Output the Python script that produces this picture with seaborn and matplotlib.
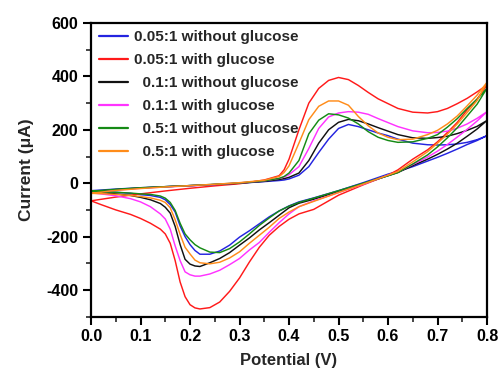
import numpy as np
import pandas as pd
import matplotlib
matplotlib.use("Agg")
import matplotlib.pyplot as plt
from matplotlib.ticker import MultipleLocator
import seaborn as sns

# Potentials for the anodic (forward) and cathodic (reverse) sweeps, V
fwd_v = [0.00, 0.05, 0.10, 0.15, 0.20, 0.25, 0.30, 0.35, 0.38, 0.39, 0.40, 0.42,
         0.44, 0.46, 0.48, 0.50, 0.52, 0.54, 0.56, 0.58, 0.60, 0.62, 0.65, 0.68,
         0.70, 0.72, 0.74, 0.76, 0.78, 0.80]
rev_v = [0.80, 0.78, 0.76, 0.74, 0.72, 0.70, 0.68, 0.65, 0.62, 0.60, 0.55, 0.50,
         0.45, 0.42, 0.40, 0.38, 0.36, 0.34, 0.32, 0.30, 0.28, 0.26, 0.24, 0.22,
         0.21, 0.20, 0.19, 0.18, 0.17, 0.16, 0.15, 0.14, 0.12, 0.10, 0.08, 0.05,
         0.02, 0.00]

labels = ["0.05:1 without glucose", "0.05:1 with glucose",
          "  0.1:1 without glucose", "  0.1:1 with glucose",
          "  0.5:1 without glucose", "  0.5:1 with glucose"]

# Current on the forward sweep, µA
fwd_blue = [-28, -22, -17, -13, -9, -5, 0, 6, 10, 12, 16, 30, 62, 115, 165, 205,
            220, 212, 200, 188, 178, 165, 150, 144, 143, 144, 147, 153, 163, 178]
fwd_red = [-66, -52, -40, -29, -19, -10, -2, 12, 28, 50, 90, 200, 300, 355, 385,
           396, 388, 366, 340, 316, 298, 280, 266, 263, 268, 280, 298, 318, 342, 368]
fwd_black = [-32, -24, -18, -13, -9, -5, 0, 7, 14, 17, 22, 38, 85, 150, 200, 228,
             239, 234, 222, 208, 195, 182, 170, 168, 171, 176, 186, 198, 213, 235]
fwd_magenta = [-36, -26, -19, -14, -10, -5, 1, 9, 18, 23, 32, 62, 130, 205, 248,
               263, 268, 266, 258, 242, 227, 212, 196, 189, 190, 195, 206, 222, 243,
               268]
fwd_green = [-30, -23, -17, -13, -9, -4, 1, 9, 18, 25, 38, 85, 185, 236, 260, 256,
             244, 222, 193, 172, 160, 153, 155, 168, 182, 210, 242, 280, 315, 356]
fwd_orange = [-38, -27, -20, -14, -9, -4, 2, 11, 25, 40, 65, 150, 238, 288, 308,
              308, 292, 250, 215, 188, 172, 163, 165, 182, 198, 222, 252, 290, 330,
              378]

# Current on the reverse sweep, µA
rev_blue = [178, 160, 145, 128, 112, 97, 83, 62, 44, 34, 2, -28, -55, -70, -85,
            -104, -126, -152, -178, -202, -232, -254, -266, -266, -252, -230, -200,
            -160, -108, -80, -62, -53, -46, -43, -38, -34, -30, -28]
rev_red = [368, 315, 275, 228, 190, 155, 125, 90, 50, 30, -6, -45, -98, -115, -135,
           -162, -195, -240, -295, -355, -405, -445, -466, -471, -467, -455, -425,
           -370, -290, -225, -190, -172, -150, -132, -117, -100, -80, -66]
rev_black = [235, 203, 176, 150, 128, 108, 90, 66, 40, 28, -2, -32, -60, -75, -92,
             -120, -148, -175, -205, -232, -260, -282, -298, -312, -310, -303, -285,
             -230, -162, -112, -90, -76, -62, -53, -46, -40, -35, -32]
rev_magenta = [268, 233, 202, 173, 145, 120, 98, 70, 42, 30, -4, -35, -66, -88,
               -115, -148, -184, -222, -250, -282, -305, -326, -340, -348, -348,
               -343, -332, -290, -235, -172, -134, -115, -88, -70, -58, -47, -40, -36]
rev_green = [356, 296, 252, 208, 170, 136, 106, 72, 40, 28, 0, -28, -56, -72, -86,
             -104, -130, -158, -190, -220, -245, -260, -258, -242, -230, -212, -190,
             -150, -102, -72, -56, -48, -42, -40, -37, -34, -32, -30]
rev_orange = [378, 310, 265, 222, 184, 150, 118, 80, 44, 30, -3, -35, -68, -88,
              -108, -132, -165, -195, -225, -257, -280, -296, -302, -298, -288,
              -265, -240, -192, -137, -92, -72, -64, -55, -50, -46, -42, -39, -38]

colors = ["#2424e0", "#ff1a1a", "#111111", "#ff33ff", "#158a15", "#ff8c1a"]

forward = [fwd_blue, fwd_red, fwd_black, fwd_magenta, fwd_green, fwd_orange]
reverse = [rev_blue, rev_red, rev_black, rev_magenta, rev_green, rev_orange]

frames = []
for name, f, r in zip(labels, forward, reverse):
    pot = list(fwd_v) + list(rev_v[1:])
    cur = list(f) + list(r[1:])
    frames.append(pd.DataFrame({"Potential": pot, "Current": cur,
                                "Sample": name, "step": range(len(pot))}))
df = pd.concat(frames, ignore_index=True)

sns.set_theme(style="ticks")
plt.rcParams["font.family"] = ["Liberation Sans", "DejaVu Sans"]
plt.rcParams["font.weight"] = "bold"

fig = plt.figure(figsize=(4.99, 3.74), dpi=100)
ax = fig.add_axes([0.1824, 0.1532, 0.7936, 0.7853])

sns.lineplot(data=df, x="Potential", y="Current", hue="Sample", units="Sample",
             estimator=None, sort=False, palette=colors, hue_order=labels,
             linewidth=1.05, ax=ax)

ax.set_xlim(0.0, 0.8)
ax.set_ylim(-500, 600)
ax.xaxis.set_minor_locator(MultipleLocator(0.05))
ax.yaxis.set_minor_locator(MultipleLocator(100))
ax.set_yticks([-400, -200, 0, 200, 400, 600])
ax.set_yticklabels(["-400", "-200", "0", "200", "400", "600"])
ax.set_xticks([0.0, 0.1, 0.2, 0.3, 0.4, 0.5, 0.6, 0.7, 0.8])
ax.set_xticklabels(["0.0", "0.1", "0.2", "0.3", "0.4", "0.5", "0.6", "0.7", "0.8"])

for side in ["left", "right", "top", "bottom"]:
    ax.spines[side].set_linewidth(1.6)
    ax.spines[side].set_color("black")
ax.tick_params(which="major", direction="out", length=6, width=1.5,
               labelsize=11.5, pad=3, colors="black")
ax.tick_params(which="minor", direction="out", length=3.5, width=1.2)
ax.tick_params(axis="x", which="both", top=False)
ax.tick_params(axis="y", which="both", right=False)
for lab in ax.get_xticklabels() + ax.get_yticklabels():
    lab.set_fontweight("bold")

ax.set_xlabel("Potential (V)", fontsize=12, fontweight="bold", labelpad=6)
ax.set_ylabel("Current (μA)", fontsize=12.5, fontweight="bold", labelpad=9)

handles, _ = ax.get_legend_handles_labels()
leg = ax.legend(handles=handles, labels=labels, loc="upper left",
                bbox_to_anchor=(-0.004, 1.006), frameon=False,
                handlelength=1.92, handletextpad=0.38, labelspacing=0.585,
                borderaxespad=0.2, prop={"weight": "bold", "size": 11.0})
for line in leg.get_lines():
    line.set_linewidth(1.6)

fig.savefig("out.png", dpi=100)
